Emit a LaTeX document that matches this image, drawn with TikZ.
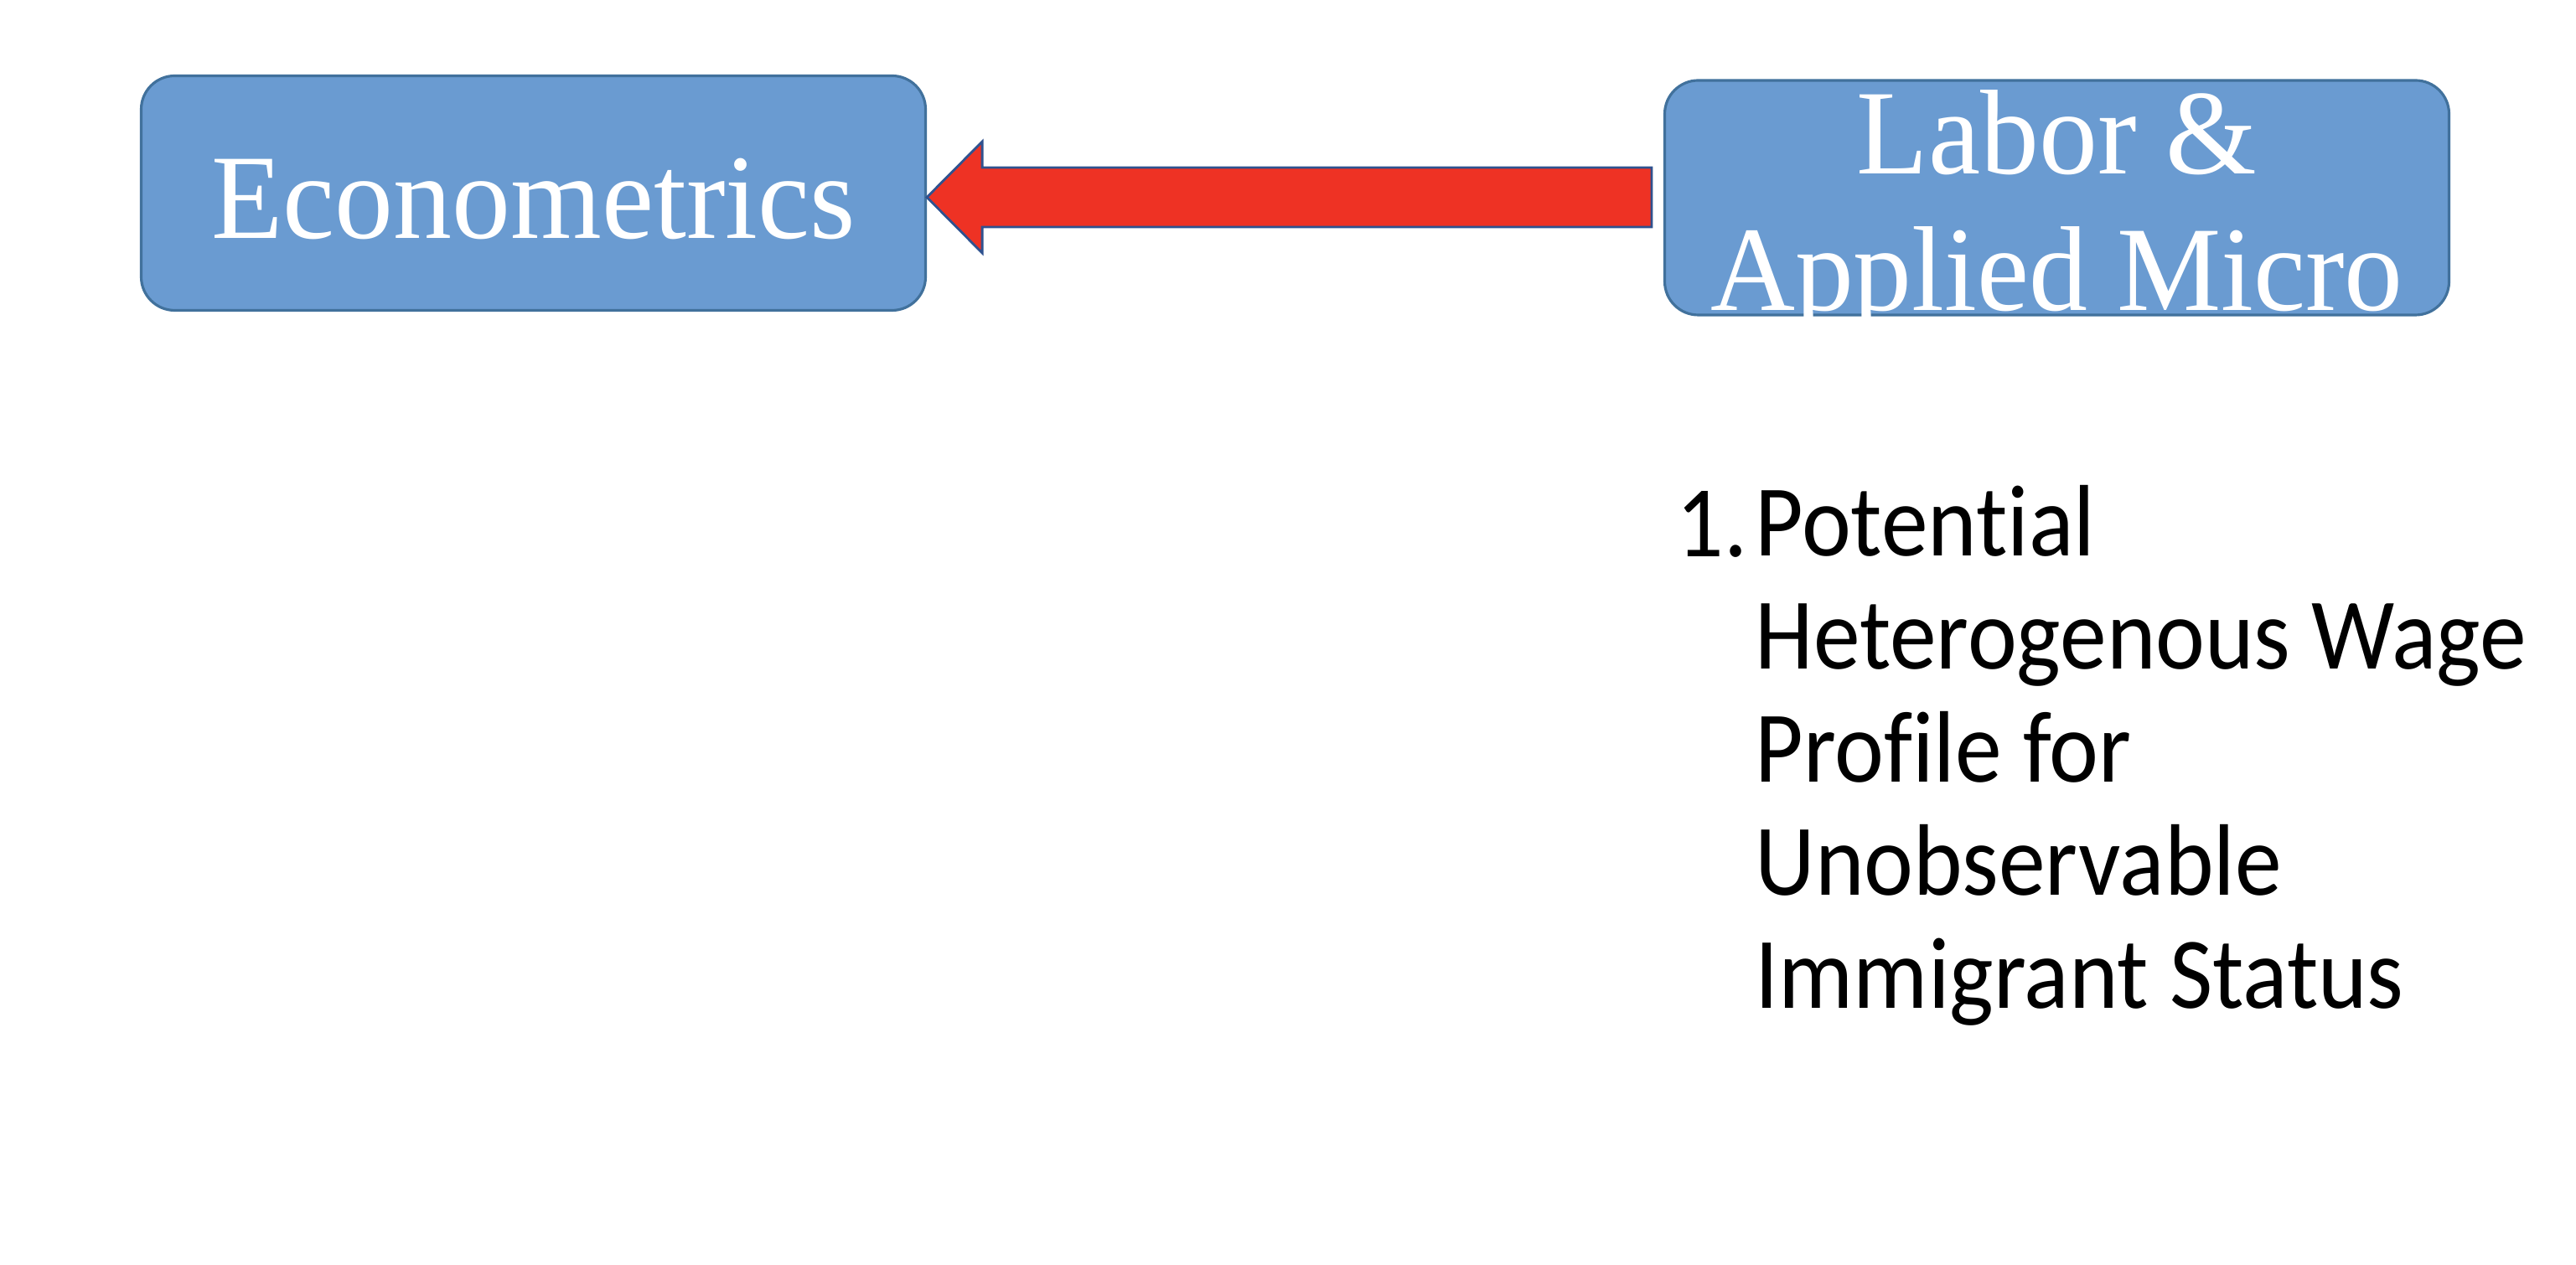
\documentclass[tikz,border=0pt]{standalone}
\usepackage{fontspec}
\setmainfont[FakeStretch=0.97]{Liberation Serif}
\newfontfamily\listfont[FakeStretch=0.92,Ligatures=NoCommon]{Carlito}
\usetikzlibrary{calc}

\definecolor{boxblue}{RGB}{106,155,209}
\definecolor{boxline}{RGB}{65,113,156}
\definecolor{arrowred}{RGB}{238,50,36}
\definecolor{arrowline}{RGB}{47,82,143}

\begin{document}
\begin{tikzpicture}[
    topicbox/.style={draw=boxline,line width=0.9pt,fill=boxblue,rounded corners=0.4cm,
      minimum width=9.36cm,minimum height=2.8cm,inner sep=0pt},
    boxtext/.style={inner sep=0pt,text=white,font=\fontsize{41}{46.4}\selectfont,align=center},
    bigarrow/.style={draw=arrowline,line width=0.8pt,fill=arrowred,line join=miter},
    listtext/.style={inner sep=0pt,font=\listfont\fontsize{34.5}{38.4}\selectfont,align=left}
  ]
        \useasboundingbox (0,0) rectangle (30.74,15.10);

        % Boxes
        \node[topicbox] (econ) at (6.365,12.795) {};
        \node[boxtext] (econtext) at ($(econ.center)+(0,-0.07)$) {Econometrics};
        \node[topicbox] (labor) at (24.545,12.74) {};
        \node[boxtext] (labortext) at ($(labor.center)+(0,-0.18)$) {Labor \&\\Applied Micro};

        % Block arrow from labor to econ
        \coordinate (tip) at ($(econ.east)+(0,-0.05)$);
        \coordinate (tail) at ($(labor.west)+(-0.14,0)$);
        \draw[bigarrow] (tip) -- ++(0.66,0.665) -- ++(0,-0.31) -- ($(tail |- tip)+(0,0.355)$)
          -- ($(tail |- tip)+(0,-0.355)$) -- ($(tip)+(0.66,-0.355)$) -- ++(0,-0.31) -- cycle;

        % List below labor box
        \node[listtext,anchor=base west] (num) at (20.00,8.45) {1.};
        \node[listtext,anchor=north west] (item) at ($(num.base west)+(0.94,0.86)$) {Potential\\Heterogenous Wage\\Profile for\\Unobservable\\Immigrant Status};
\end{tikzpicture}
\end{document}
